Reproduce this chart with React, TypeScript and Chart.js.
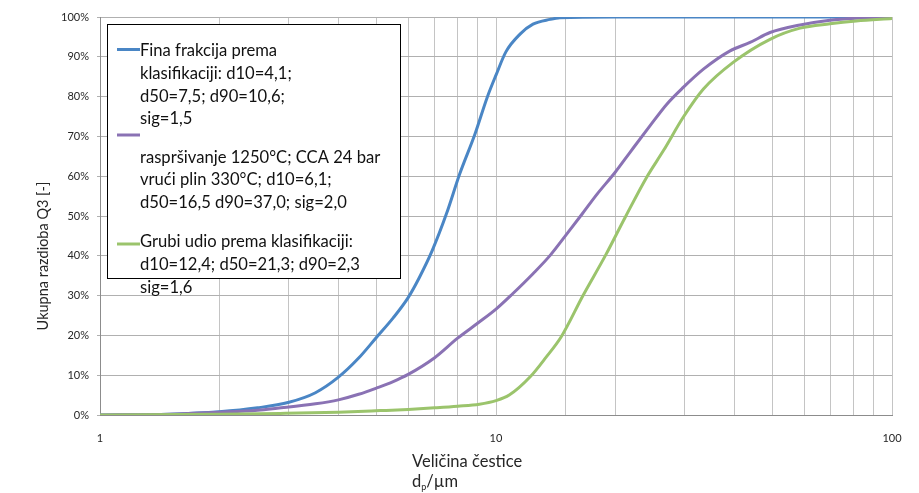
import React, { useEffect, useRef } from "react";
import { Chart, registerables } from "chart.js";

Chart.register(...registerables);

// ---- Data ----
const fineX = [1, 1.5, 2, 2.5, 3, 3.5, 4, 4.5, 5, 5.5, 6, 6.4, 6.9, 7.5, 8.1, 8.85, 9.5, 10, 10.6, 11.5, 12.4, 13.7, 14.5, 20, 50, 100];
const fineY = [0, 0.2, 0.8, 1.8, 3.2, 5.6, 9.5, 14.3, 19.6, 24.4, 29.5, 34.5, 41.3, 50.6, 60.6, 70.6, 79.8, 85.4, 91.3, 95.7, 98.2, 99.4, 99.8, 100, 100, 100];

const sprayX = [1, 1.5, 2, 2.5, 2.8, 3.5, 4, 4.5, 5, 5.5, 6, 7, 8, 9, 10, 11, 12.4, 13.7, 15.1, 16.5, 18, 20, 21.8, 24.5, 27, 29.7, 33.4, 39, 43.8, 49.2, 58.6, 69.7, 81, 100];
const sprayY = [0, 0.2, 0.7, 1.2, 1.7, 2.8, 3.8, 5.2, 6.8, 8.4, 10.2, 14.4, 19.3, 23.1, 26.6, 30.4, 35.5, 40.1, 45.5, 50.5, 55.5, 61, 66, 72.7, 78.1, 82.3, 86.9, 91.5, 93.6, 96.1, 98, 99.2, 99.7, 100];

const coarseX = [1, 2, 2.85, 4, 5.1, 6, 7, 8, 9.08, 10, 10.8, 12.2, 13.4, 14.6, 16.6, 18.9, 21.2, 24, 26.5, 29.7, 33.4, 39.7, 49.2, 58.6, 69.7, 81.2, 100];
const coarseY = [0, 0.2, 0.4, 0.7, 1.1, 1.4, 1.8, 2.2, 2.7, 3.6, 5, 9.6, 14.6, 19.6, 30.1, 40.1, 49.7, 59.7, 66.5, 74.8, 81.9, 88.6, 94.4, 97.2, 98.3, 99, 99.6];

const fineLabel = ["Fina frakcija prema", "klasifikaciji: d10=4,1;", "d50=7,5; d90=10,6;", "sig=1,5"];
const sprayLabel = ["", "raspršivanje 1250°C; CCA 24 bar", "vrući plin 330°C; d10=6,1;", "d50=16,5 d90=37,0; sig=2,0"];
const coarseLabel = ["Grubi udio prema klasifikaciji:", "d10=12,4; d50=21,3; d90=2,3", "sig=1,6"];

const xLabeledTicks = [1, 10, 100];
const yAxisTitle = "Ukupna razdioba Q3 [-]";
const xAxisTitle = "Veličina čestice";

const BLUE = "#4a86c5";
const PURPLE = "#8a72b4";
const GREEN = "#9bc46c";
const FONT = "Lato, 'Open Sans', sans-serif";

const toPts = (xs: number[], ys: number[]) => xs.map((x, i) => ({ x, y: ys[i] }));

const overlayPlugin = {
  id: "overlay",
  afterDraw(chart: any) {
    const ctx = chart.ctx as CanvasRenderingContext2D;
    ctx.save();
    // Legend box
    const bx = 107.5, by = 24.5, bw = 293, bh = 254;
    ctx.fillStyle = "#ffffff";
    ctx.fillRect(bx, by, bw, bh);
    ctx.strokeStyle = "#000000";
    ctx.lineWidth = 1;
    ctx.strokeRect(bx, by, bw, bh);

    const entries = [
      { color: BLUE, markerY: 49.5, textY: 51, lines: fineLabel },
      { color: PURPLE, markerY: 135, textY: 134.5, lines: sprayLabel },
      { color: GREEN, markerY: 244, textY: 242, lines: coarseLabel },
    ];
    ctx.font = `16.6px ${FONT}`;
    ctx.textBaseline = "middle";
    ctx.textAlign = "left";
    entries.forEach((e) => {
      ctx.strokeStyle = e.color;
      ctx.lineWidth = 3;
      ctx.beginPath();
      ctx.moveTo(117, e.markerY);
      ctx.lineTo(140, e.markerY);
      ctx.stroke();
      ctx.fillStyle = "#111111";
      e.lines.forEach((t, i) => {
        if (t) ctx.fillText(t, 140, e.textY + i * 22.7);
      });
    });

    // Y axis title
    ctx.save();
    ctx.translate(43, 256);
    ctx.rotate(-Math.PI / 2);
    ctx.font = `14.5px ${FONT}`;
    ctx.fillStyle = "#262626";
    ctx.textAlign = "center";
    ctx.textBaseline = "middle";
    ctx.fillText(yAxisTitle, 0, 0);
    ctx.restore();

    // X axis title
    ctx.font = `16.5px ${FONT}`;
    ctx.fillStyle = "#262626";
    ctx.textAlign = "left";
    ctx.textBaseline = "middle";
    ctx.fillText(xAxisTitle, 412, 462);
    let x = 412;
    ctx.fillText("d", x, 482);
    x += ctx.measureText("d").width;
    ctx.font = `9px ${FONT}`;
    ctx.fillText("p", x, 487);
    x += ctx.measureText("p").width;
    ctx.font = `16.5px ${FONT}`;
    ctx.fillText("/µm", x, 482);
    ctx.restore();
  },
};

export default function App() {
  const ref = useRef<HTMLCanvasElement | null>(null);
  useEffect(() => {
    if (!ref.current) return;
    const common = { borderWidth: 3, pointRadius: 0, cubicInterpolationMode: "monotone" as const };
    const chart = new Chart(ref.current, {
      type: "line",
      data: {
        datasets: [
          { label: fineLabel.join(" "), data: toPts(fineX, fineY), borderColor: BLUE, order: 3, ...common },
          { label: sprayLabel.join(" "), data: toPts(sprayX, sprayY), borderColor: PURPLE, order: 2, ...common },
          { label: coarseLabel.join(" "), data: toPts(coarseX, coarseY), borderColor: GREEN, order: 1, ...common },
        ],
      },
      options: {
        responsive: false,
        animation: false,
        layout: { padding: { left: 0, right: 27, top: 17, bottom: 0 } },
        plugins: { legend: { display: false }, tooltip: { enabled: false } },
        scales: {
          x: {
            type: "logarithmic",
            min: 1,
            max: 100,
            afterFit: (s: any) => { s.height = 78; },
            grid: { color: "#c4c4c4", lineWidth: 1, drawTicks: false },
            border: { color: "#8c8c8c" },
            ticks: {
              autoSkip: false,
              maxRotation: 0,
              padding: 17,
              font: { family: FONT, size: 11 },
              color: "#262626",
              callback: (v: any) => (xLabeledTicks.includes(Number(v)) ? String(v) : ""),
            },
          },
          y: {
            type: "linear",
            min: 0,
            max: 100,
            afterFit: (s: any) => { s.width = 100; },
            grid: { color: "#b0b0b0", lineWidth: 1, tickLength: 3 },
            border: { color: "#8c8c8c" },
            ticks: {
              stepSize: 10,
              padding: 8,
              font: { family: FONT, size: 11 },
              color: "#262626",
              callback: (v: any) => `${v}%`,
            },
          },
        },
      },
      plugins: [overlayPlugin],
    });
    return () => chart.destroy();
  }, []);
  return (
    <div style={{ position: "fixed", left: 0, top: 0, width: 919, height: 493, background: "#fff" }}>
      <canvas ref={ref} width={919} height={493} style={{ display: "block" }} />
    </div>
  );
}
